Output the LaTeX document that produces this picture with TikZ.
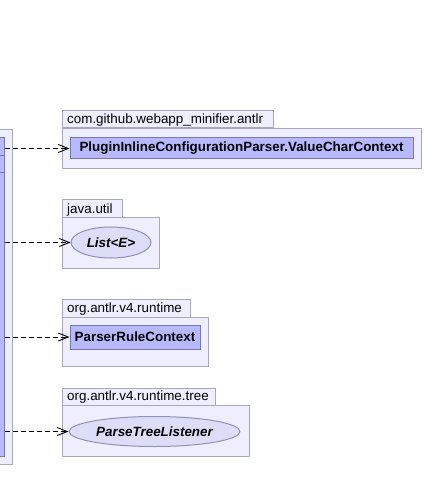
\documentclass[tikz,border=0pt]{standalone}
\usepackage{fontspec}
\setmainfont{Liberation Sans}
\usetikzlibrary{arrows.meta,shapes.geometric}
\definecolor{pkgfill}{HTML}{EEEEFF}
\definecolor{pkgline}{HTML}{A8A8B8}
\definecolor{clsfill}{HTML}{B8B8FF}
\definecolor{clsline}{HTML}{7878A8}
\definecolor{ifcfill}{HTML}{DDDDF8}
\definecolor{ifcline}{HTML}{9090B8}
\tikzset{
  pkgbox/.style={draw=pkgline, fill=pkgfill, line width=1pt, rectangle, inner sep=0pt},
  clsbox/.style={draw=clsline, fill=clsfill, line width=1pt, rectangle, inner sep=0pt, font=\bfseries\fontsize{13.4}{15}\selectfont},
  ifcbox/.style={draw=ifcline, fill=ifcfill, line width=1pt, ellipse, inner sep=0pt, font=\bfseries\itshape\fontsize{13.4}{15}\selectfont},
  dep/.style={draw=black, line width=0.9pt, dash pattern=on 5pt off 3pt, -{Straight Barb[length=10pt,width=8pt,line width=0.9pt]}},
  tabtext/.style={anchor=west, inner sep=0pt, font=\fontsize{13.4}{15}\selectfont}
}
\begin{document}
\begin{tikzpicture}[x=1pt,y=-1pt]
\useasboundingbox (0,0) rectangle (423,502);
% left package and class (partially visible)
\node[pkgbox, minimum width=22pt, minimum height=334pt] (lpkg) at (1,297) {};
\node[clsbox, minimum width=14pt, minimum height=318pt] (lcls) at (-3,297) {};
\draw[clsline, line width=1pt] (lcls.west |- 0,156) -- (lcls.east |- 0,156);
\draw[clsline, line width=1pt] (lcls.west |- 0,173) -- (lcls.east |- 0,173);

% package 1
\node[pkgbox, minimum width=211pt, minimum height=17pt] (t1) at (167.5,119.5) {};
\node[tabtext] (t1l) at (67,120.5) {com.github.webapp\_minifier.antlr};
\node[pkgbox, minimum width=359pt, minimum height=40pt] (b1) at (241.5,148.5) {};
\node[clsbox, minimum width=343pt, minimum height=21pt] (c1) at (241.5,148.5) {PluginInlineConfigurationParser.ValueCharContext};

% package 2
\node[pkgbox, minimum width=60pt, minimum height=18pt] (t2) at (92,209) {};
\node[tabtext] (t2l) at (67,210) {java.util};
\node[pkgbox, minimum width=97pt, minimum height=50pt] (b2) at (110.5,243) {};
\node[ifcbox, minimum width=80pt, minimum height=31pt] (c2) at (111,242.5) {List<E>};

% package 3
\node[pkgbox, minimum width=128pt, minimum height=18pt] (t3) at (126,308) {};
\node[tabtext] (t3l) at (67,309) {org.antlr.v4.runtime};
\node[pkgbox, minimum width=146pt, minimum height=49pt] (b3) at (135,341.5) {};
\node[clsbox, minimum width=130pt, minimum height=24pt] (c3) at (135,337) {ParserRuleContext};

% package 4
\node[pkgbox, minimum width=153pt, minimum height=17pt] (t4) at (138.5,396.5) {};
\node[tabtext] (t4l) at (67,397.5) {org.antlr.v4.runtime.tree};
\node[pkgbox, minimum width=187pt, minimum height=51pt] (b4) at (155.5,430.5) {};
\node[ifcbox, minimum width=171pt, minimum height=30pt] (c4) at (154.5,431.5) {ParseTreeListener};

% dependencies
\draw[dep] (lcls.east |- c1.west) -- (c1.west);
\draw[dep] (lcls.east |- c2.west) -- (c2.west);
\draw[dep] (lcls.east |- c3.west) -- (c3.west);
\draw[dep] (lcls.east |- c4.west) -- (c4.west);
\end{tikzpicture}
\end{document}
